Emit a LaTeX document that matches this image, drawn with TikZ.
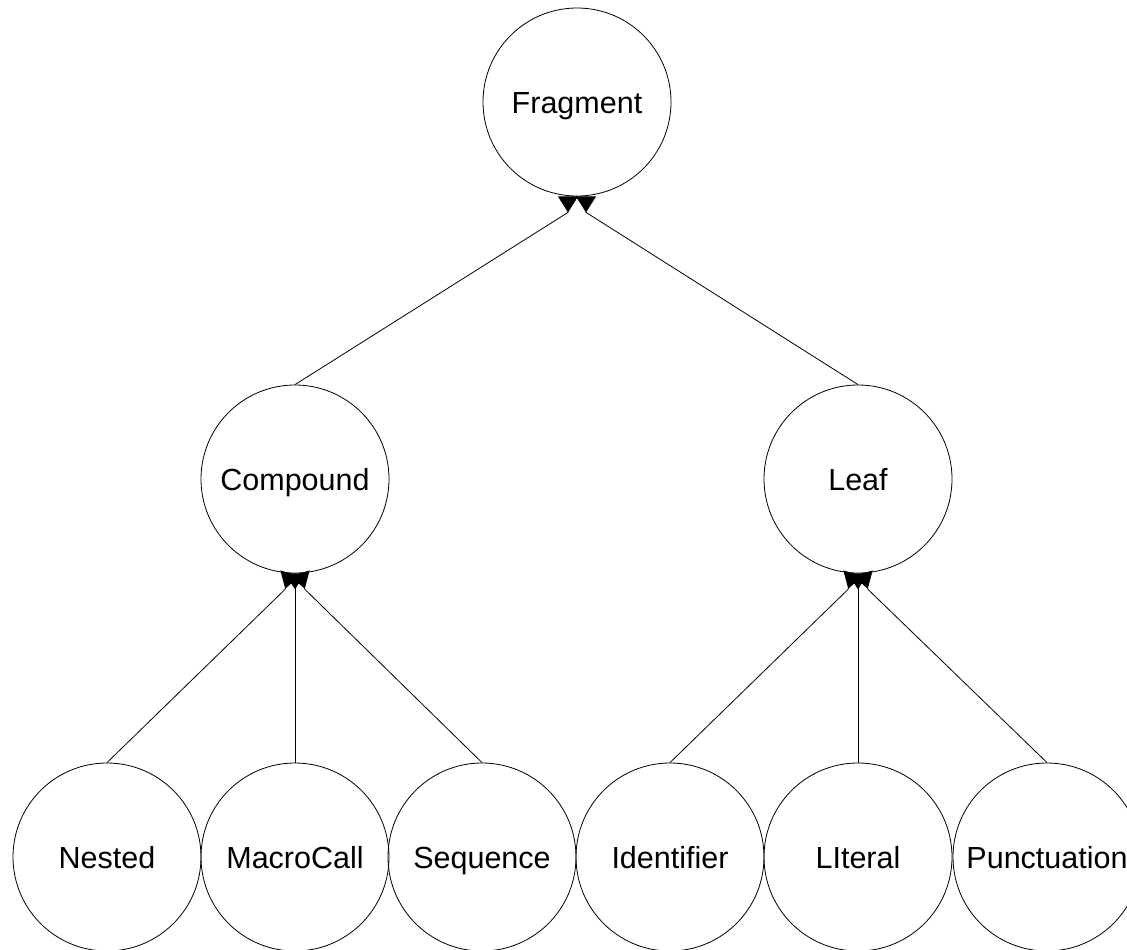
\documentclass[tikz,border=0pt]{standalone}
\usepackage{fontspec}
\setmainfont{Liberation Sans}
\usetikzlibrary{arrows.meta,positioning}

\tikzset{
  ent/.style={draw,circle,line width=0.8pt,minimum size=188pt,inner sep=0pt,
    font=\fontsize{30.5}{36}\selectfont,text height=22pt,text depth=0pt},
  isa/.style={line width=0.8pt,-{Triangle[reversed,width=20pt,length=16pt]}}
}

\begin{document}
\begin{tikzpicture}
    \useasboundingbox (0,0) rectangle (1127pt,-950pt);
    \clip (0,0) rectangle (1127pt,-950pt);

    % Root and middle level
    \node[ent] (frag) at (577pt,-102pt) {Fragment};
    \node[ent] (cmp) at (295pt,-479pt) {Compound};
    \node[ent] (leaf) at (858pt,-479pt) {Leaf};

    % Leaves of the hierarchy
    \foreach \name/\txt/\x in {nst/Nested/107, mac/MacroCall/295, seq/Sequence/482,
        idf/Identifier/670, lit/LIteral/858, pun/Punctuation/1047}{
      \node[ent] (\name) at (\x pt,-857pt) {\txt};
    }

    % Edges into Fragment
    \draw[isa] (cmp.north) -- ([xshift=-9pt,yshift=-16pt]frag.south) -- ([xshift=-9pt]frag.south);
    \draw[isa] (leaf.north) -- ([xshift=9pt,yshift=-16pt]frag.south) -- ([xshift=9pt]frag.south);

    % Edges into Compound
    \draw[isa] (nst.north) -- ([xshift=-10pt,yshift=-16pt]cmp.south) -- ([xshift=-5pt]cmp.south);
    \draw[isa] (mac.north) -- (cmp.south);
    \draw[isa] (seq.north) -- ([xshift=10pt,yshift=-16pt]cmp.south) -- ([xshift=5pt]cmp.south);

    % Edges into Leaf
    \draw[isa] (idf.north) -- ([xshift=-10pt,yshift=-16pt]leaf.south) -- ([xshift=-5pt]leaf.south);
    \draw[isa] (lit.north) -- (leaf.south);
    \draw[isa] (pun.north) -- ([xshift=10pt,yshift=-16pt]leaf.south) -- ([xshift=5pt]leaf.south);
\end{tikzpicture}
\end{document}
